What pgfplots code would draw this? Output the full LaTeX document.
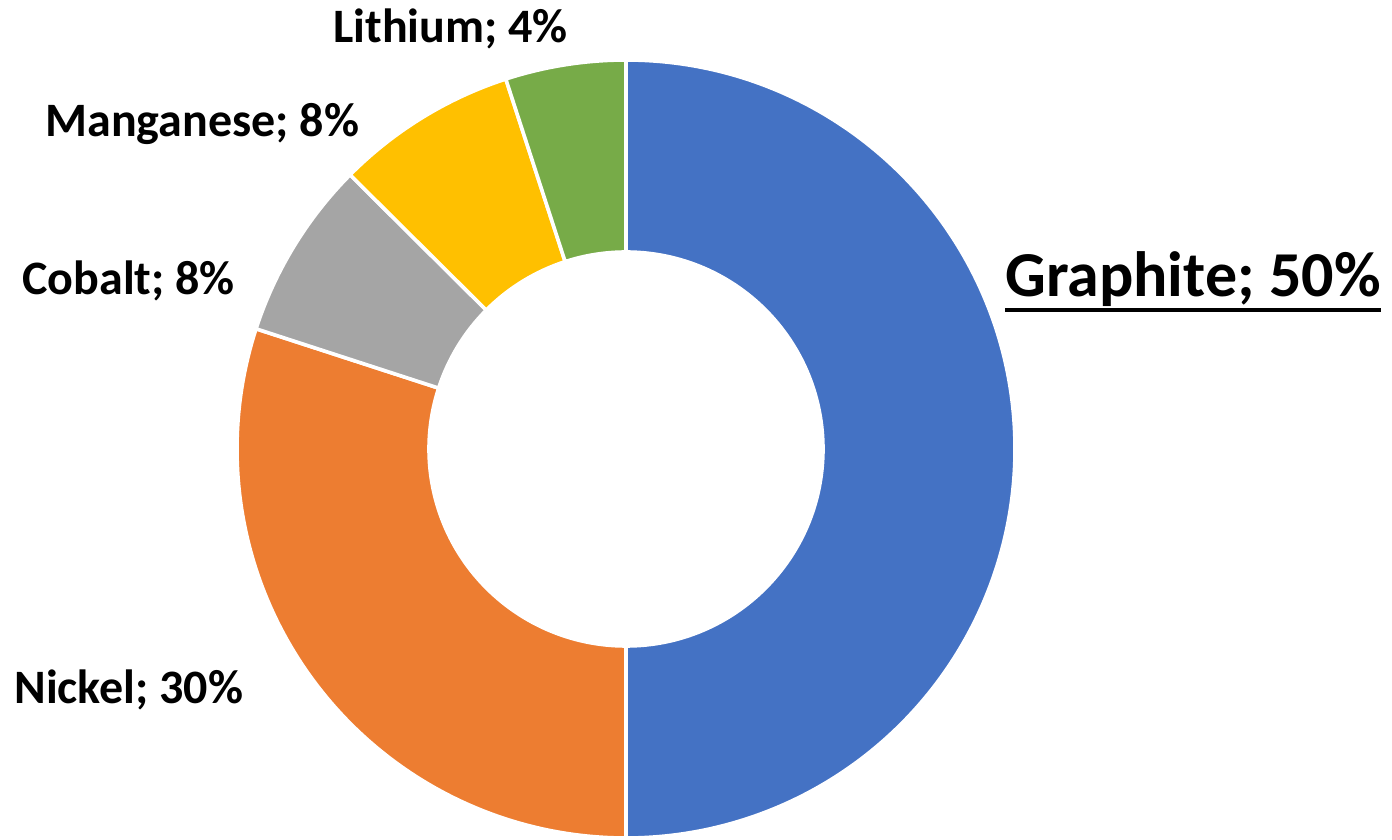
\documentclass[border=0pt]{standalone}
\usepackage{fontspec}
\setmainfont{Carlito}
\usepackage{pgfplots}
\usepackage{pgfplotstable}
\pgfplotsset{compat=1.18}

\definecolor{cGraphite}{HTML}{4472C4}
\definecolor{cNickel}{HTML}{ED7D31}
\definecolor{cCobalt}{HTML}{A5A5A5}
\definecolor{cMang}{HTML}{FFC000}
\definecolor{cLith}{HTML}{77AB48}

% share of each slice, clockwise from 12 o'clock
\pgfplotstableread{
name      value col
Graphite  50    cGraphite
Nickel    30    cNickel
Cobalt    7.45  cCobalt
Manganese 7.55  cMang
Lithium   5     cLith
}\donutdata

% start/end angle of every slice (done in the preamble so no stray spaces)
\xdef\curang{90}
\foreach \i in {0,...,4}{%
  \pgfplotstablegetelem{\i}{value}\of\donutdata
  \pgfmathsetmacro\endang{\curang-3.6*\pgfplotsretval}%
  \expandafter\xdef\csname sA\i\endcsname{\curang}%
  \expandafter\xdef\csname sB\i\endcsname{\endang}%
  \pgfplotstablegetelem{\i}{col}\of\donutdata
  \expandafter\xdef\csname sC\i\endcsname{\pgfplotsretval}%
  \xdef\curang{\endang}%
}
\def\Ro{194.5pt}
\def\Ri{98.5pt}

\begin{document}
\begin{tikzpicture}
\begin{axis}[
    width=696pt, height=419.5pt, scale only axis,
    xmin=0, xmax=1392, ymin=0, ymax=839,
    hide axis, clip=false,
]
\path (axis cs:0,0) (axis cs:1392,839);
\pgfplotsinvokeforeach{0,...,4}{
  \edef\tmp{\noexpand\fill[fill=\csname sC#1\endcsname, draw=white, line width=1.8pt]
    ([shift={(\csname sA#1\endcsname:\Ro)}]axis cs:626,390)
    arc[start angle=\csname sA#1\endcsname, end angle=\csname sB#1\endcsname, radius=\Ro]
    -- ([shift={(\csname sB#1\endcsname:\Ri)}]axis cs:626,390)
    arc[start angle=\csname sB#1\endcsname, end angle=\csname sA#1\endcsname, radius=\Ri]
    -- cycle;}
  \tmp
}
\begin{scope}[every node/.style={inner sep=0pt, anchor=base west, font=\fontsize{24}{28}\selectfont\bfseries}]
\node at (axis cs:333,796) {Lithium; 4\%};
\node at (axis cs:45,702) {Manganese; 8\%};
\node at (axis cs:22,544) {Cobalt; 8\%};
\node at (axis cs:14,136) {Nickel; 30\%};
\node[font=\fontsize{32}{37}\selectfont\bfseries] (g) at (axis cs:1005,542) {Graphite; 50\%};
\end{scope}
\draw[line width=1.6pt] ([yshift=-6.5pt]g.base west) -- ([yshift=-6.5pt]g.base east);
\end{axis}
\end{tikzpicture}
\end{document}
